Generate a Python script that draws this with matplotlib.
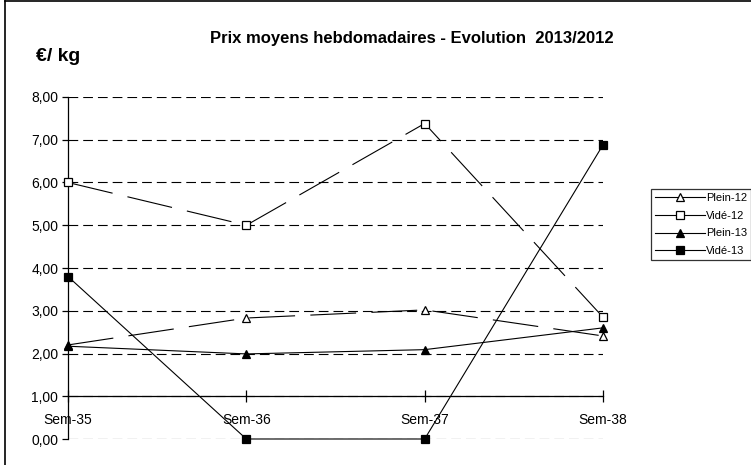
import matplotlib
matplotlib.use("Agg")
import matplotlib.pyplot as plt
from matplotlib.lines import Line2D

plt.rcParams['font.family'] = ['Liberation Sans', 'DejaVu Sans']
plt.rcParams['lines.scale_dashes'] = False

weeks = ["Sem-35", "Sem-36", "Sem-37", "Sem-38"]
plein_12 = [2.20, 2.83, 3.02, 2.41]
vide_12 = [6.00, 5.00, 7.38, 2.85]
plein_13 = [2.17, 1.99, 2.09, 2.60]
vide_13 = [3.80, 0.00, 0.00, 6.88]
yticks = [0, 1, 2, 3, 4, 5, 6, 7, 8]

W, H = 751, 465
fig = plt.figure(figsize=(W / 100, H / 100), dpi=100)
ax = fig.add_axes([68 / W, 26 / H, 535 / W, 342 / H])
x = list(range(len(weeks)))

long_dash = (0, (33, 11))
series = [
    (plein_12, "Plein-12", "^", "white", long_dash),
    (vide_12, "Vidé-12", "s", "white", long_dash),
    (plein_13, "Plein-13", "^", "black", "-"),
    (vide_13, "Vidé-13", "s", "black", "-"),
]
handles = []
for vals, lab, mk, fc, ls in series:
    ax.plot(x, vals, color="black", lw=0.8, ls=ls, marker=mk, ms=5.5,
            mfc=fc, mec="black", mew=0.9, clip_on=False, zorder=4)
    handles.append(Line2D([], [], color="black", lw=0.8, marker=mk, ms=5.5,
                          mfc=fc, mec="black", mew=0.9, label=lab))

ax.set_xlim(0, 3)
ax.set_ylim(0, 8)
ax.set_yticks(yticks)
ax.set_yticklabels([f"{v:.2f}".replace(".", ",") for v in yticks], fontsize=10)
ax.set_xticks(x)
ax.set_xticklabels(weeks, fontsize=10.5)
for yv in yticks:
    ax.axhline(yv, color="black", lw=0.8, ls=(0, (7, 3.6)), zorder=1)

for s in ["top", "right"]:
    ax.spines[s].set_visible(False)
ax.spines["bottom"].set_position(("data", 1))
ax.spines["left"].set_linewidth(0.9)
ax.spines["bottom"].set_linewidth(0.9)
ax.spines["bottom"].set_zorder(2)
ax.tick_params(axis="y", direction="out", length=4, width=0.9, pad=3)
ax.tick_params(axis="x", direction="inout", length=8, width=0.9, pad=8)
ax.patch.set_visible(False)

fig.text(412 / W, 1 - 38 / H, "Prix moyens hebdomadaires - Evolution  2013/2012",
         ha="center", va="center", fontsize=12, fontweight="bold")
fig.text(36 / W, 1 - 56 / H, "€/ kg", ha="left", va="center", fontsize=14, fontweight="bold")

leg = fig.legend(handles=handles, loc="upper left", bbox_to_anchor=(651 / W, 1 - 189 / H),
                 fontsize=8, frameon=True, fancybox=False, handlelength=4.5,
                 handletextpad=0.1, labelspacing=0.7, borderpad=0.35, borderaxespad=0)
leg.get_frame().set_edgecolor("black")
leg.get_frame().set_linewidth(0.9)

fig.add_artist(Line2D([5 / W, 5 / W], [0, 1 - 1.5 / H], color="black", lw=1.2))
fig.add_artist(Line2D([5 / W, 1], [1 - 1.5 / H, 1 - 1.5 / H], color="black", lw=1.2))

fig.savefig("out.png", dpi=100)
